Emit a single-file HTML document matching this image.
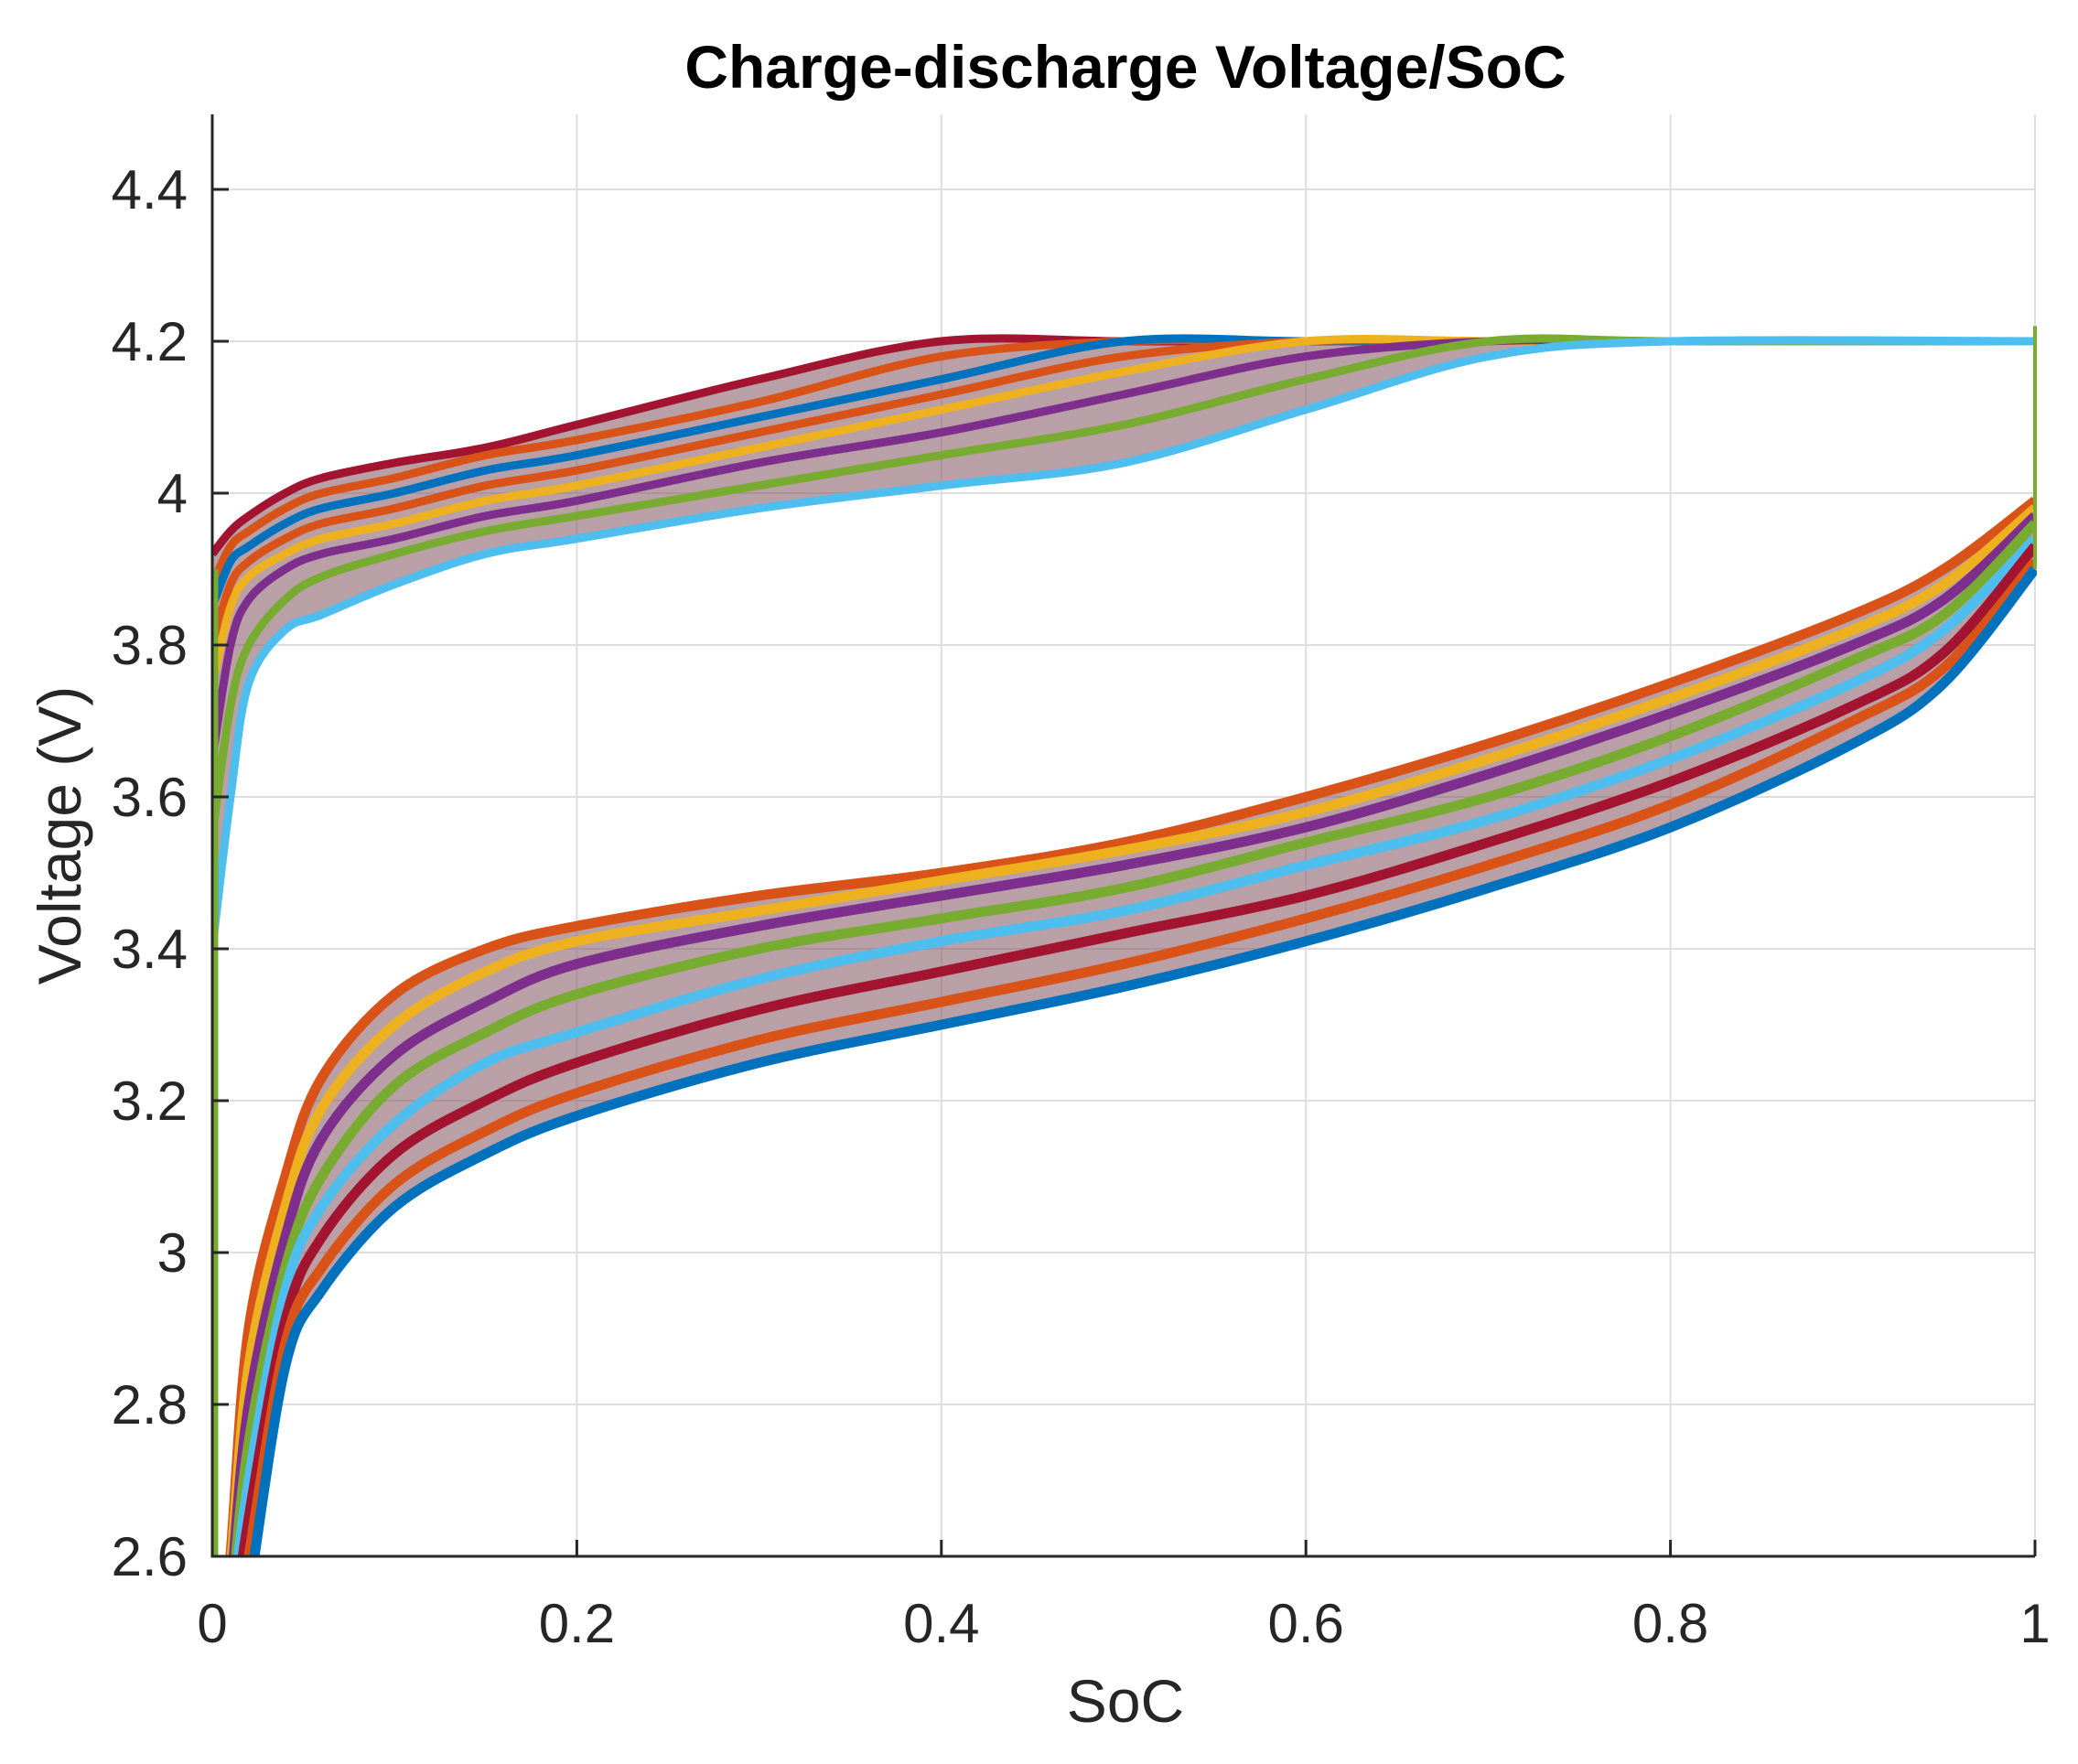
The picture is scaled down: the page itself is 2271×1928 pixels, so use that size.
<!DOCTYPE html>
<html><head><meta charset="utf-8"><style>
html,body{margin:0;padding:0;background:#fff;width:2271px;height:1928px;overflow:hidden;}
svg{display:block;font-family:"Liberation Sans",Arial,sans-serif;}
</style></head><body>
<svg id="chart" width="2271" height="1928" viewBox="0 0 2271 1928" xmlns="http://www.w3.org/2000/svg">
<defs><clipPath id="clip"><rect x="232" y="125" width="1994" height="1576"/></clipPath></defs>
<rect width="2271" height="1928" fill="#fff"/>
<g id="grid"></g>
<g id="bands" clip-path="url(#clip)"></g>
<g id="series" clip-path="url(#clip)"></g>
<g id="axes"></g>
<text x="1230" y="96" text-anchor="middle" font-size="66" font-weight="bold" fill="#000">Charge-discharge Voltage/SoC</text>
<text x="1230" y="1882" text-anchor="middle" font-size="66" fill="#262626">SoC</text>
<text transform="translate(88,913) rotate(-90)" text-anchor="middle" font-size="66" fill="#262626">Voltage (V)</text>
</svg>
<script>
const xTicks = [0, 0.2, 0.4, 0.6, 0.8, 1];
const xTickLabels = ["0", "0.2", "0.4", "0.6", "0.8", "1"];
const yTicks = [2.6, 2.8, 3, 3.2, 3.4, 3.6, 3.8, 4, 4.2, 4.4];
const yTickLabels = ["2.6", "2.8", "3", "3.2", "3.4", "3.6", "3.8", "4", "4.2", "4.4"];
const socCharge = [0,0.01,0.02,0.04,0.06,0.1,0.15,0.2,0.3,0.4,0.5,0.6,0.7,0.8,1];
const charge1 = [3.92,3.95,3.97,4.0,4.02,4.04,4.06,4.09,4.15,4.2,4.2,4.2,4.2,4.2,4.2];
const charge2 = [3.88,3.93,3.95,3.98,4.0,4.02,4.05,4.07,4.12,4.18,4.2,4.2,4.2,4.2,4.2];
const charge3 = [3.85,3.91,3.93,3.96,3.98,4.0,4.03,4.05,4.1,4.15,4.2,4.2,4.2,4.2,4.2];
const charge4 = [3.8,3.88,3.91,3.94,3.96,3.98,4.01,4.03,4.08,4.13,4.18,4.2,4.2,4.2,4.2];
const charge5 = [3.75,3.85,3.89,3.92,3.94,3.96,3.99,4.01,4.06,4.11,4.16,4.2,4.2,4.2,4.2];
const charge6 = [3.65,3.8,3.86,3.9,3.92,3.94,3.97,3.99,4.04,4.08,4.13,4.18,4.2,4.2,4.2];
const charge7 = [3.55,3.72,3.8,3.86,3.89,3.92,3.95,3.97,4.01,4.05,4.09,4.15,4.2,4.2,4.2];
const charge8 = [3.4,3.6,3.75,3.82,3.84,3.88,3.92,3.94,3.98,4.01,4.04,4.11,4.18,4.2,4.2];
const socDischarge = [0,0.01,0.02,0.04,0.06,0.1,0.15,0.2,0.3,0.4,0.5,0.6,0.7,0.8,0.9,0.95,1];
const discharge1 = [2.3,2.6,2.9,3.1,3.23,3.34,3.4,3.43,3.47,3.5,3.54,3.6,3.67,3.75,3.84,3.9,3.99];
const discharge2 = [2.3,2.58,2.85,3.06,3.19,3.3,3.37,3.41,3.45,3.49,3.53,3.58,3.65,3.73,3.82,3.88,3.98];
const discharge3 = [2.28,2.55,2.8,3.02,3.15,3.26,3.33,3.38,3.43,3.47,3.51,3.56,3.63,3.71,3.8,3.86,3.97];
const discharge4 = [2.26,2.52,2.75,2.98,3.1,3.22,3.29,3.34,3.4,3.44,3.48,3.54,3.6,3.68,3.78,3.84,3.96];
const discharge5 = [2.24,2.5,2.7,2.95,3.06,3.17,3.25,3.29,3.36,3.41,3.45,3.51,3.57,3.65,3.75,3.82,3.94];
const discharge6 = [2.22,2.47,2.65,2.91,3.02,3.13,3.2,3.25,3.32,3.37,3.42,3.47,3.54,3.62,3.72,3.79,3.93];
const discharge7 = [2.21,2.44,2.6,2.88,2.98,3.09,3.16,3.21,3.28,3.33,3.38,3.44,3.51,3.59,3.7,3.77,3.91];
const discharge8 = [2.2,2.4,2.55,2.85,2.95,3.06,3.13,3.18,3.25,3.3,3.35,3.41,3.48,3.56,3.67,3.75,3.9];

const X0=232, X1=2224, YB=1701, Y0V=2.6, PXV=830;
function sx(v){return X0+(X1-X0)*v;}
function sy(v){return YB-(v-Y0V)*PXV;}
const NS='http://www.w3.org/2000/svg';
function mk(tag,attrs,parent){const e=document.createElementNS(NS,tag);for(const k in attrs)e.setAttribute(k,attrs[k]);parent.appendChild(e);return e;}
const grid=document.getElementById('grid'), axes=document.getElementById('axes'), bands=document.getElementById('bands'), series=document.getElementById('series');
const TOP=125;
xTicks.forEach((t,i)=>{
  if(t>0){const g=mk('line',{x1:sx(t),x2:sx(t),y1:TOP,y2:YB,stroke:'#dedede','stroke-width':2},grid);
  
  }
  const tk=mk('line',{x1:sx(t),x2:sx(t),y1:YB,y2:YB-18,stroke:'#262626','stroke-width':3},axes);
  
  
  const tx=mk('text',{x:sx(t),y:1795,'text-anchor':'middle','font-size':60,fill:'#262626'},axes);
  tx.textContent=xTickLabels[i];
  
  
});
yTicks.forEach((t,i)=>{
  if(t>2.6){const g=mk('line',{x1:X0,x2:X1,y1:sy(t),y2:sy(t),stroke:'#dedede','stroke-width':2},grid);
  
  }
  const tk=mk('line',{x1:X0,x2:X0+18,y1:sy(t),y2:sy(t),stroke:'#262626','stroke-width':3},axes);
  
  
  const tx=mk('text',{x:205,y:sy(t)+21,'text-anchor':'end','font-size':60,fill:'#262626'},axes);
  tx.textContent=yTickLabels[i];
  
  
});
const ax=mk('path',{d:`M${X0},${TOP}V${YB}H${X1}`,fill:'none',stroke:'#262626','stroke-width':3},axes);



function pts(xs,ys){return xs.map((x,i)=>[sx(x),sy(ys[i])]);}
function smooth(p){let d=`M${p[0][0]},${p[0][1]}`;for(let i=0;i<p.length-1;i++){const a=p[Math.max(0,i-1)],b=p[i],c=p[i+1],e=p[Math.min(p.length-1,i+2)];
 const c1=[b[0]+(c[0]-a[0])/6,b[1]+(c[1]-a[1])/6],c2=[c[0]-(e[0]-b[0])/6,c[1]-(e[1]-b[1])/6];
 d+=`C${c1[0]},${c1[1]} ${c2[0]},${c2[1]} ${c[0]},${c[1]}`;}return d;}
function band(xs,top,bot,name){const a=pts(xs,top),b=pts(xs,bot).reverse();
 const p=mk('path',{d:smooth(a)+'L'+smooth(b).slice(1)+'Z',fill:'#8a5f6a',opacity:0.6},bands);
 
 }
band(socCharge,charge1,charge8,'charge-band');
band(socDischarge,discharge1,discharge8,'discharge-band');
const colors=['#0072BD','#D95319','#EDB120','#7E2F8E','#77AC30','#4DBEEE','#A2142F','#D95319'];
const chargeSeries=[charge1,charge2,charge3,charge4,charge5,charge6,charge7,charge8];
const dischargeSeries=[discharge1,discharge2,discharge3,discharge4,discharge5,discharge6,discharge7,discharge8];
chargeSeries.forEach((s,i)=>{const p=mk('path',{d:smooth(pts(socCharge,s)),fill:'none',stroke:colors[(i+6)%8],'stroke-width':9},series);
 
 });
dischargeSeries.forEach((s,i)=>{const p=mk('path',{d:smooth(pts(socDischarge,s)),fill:'none',stroke:colors[(i+1)%8],'stroke-width':11},series);
 
 });
const v0=mk('line',{x1:sx(0.002),x2:sx(0.002),y1:sy(2.6),y2:sy(3.9),stroke:'#77AC30','stroke-width':5},series);


const v1=mk('line',{x1:sx(1),x2:sx(1),y1:sy(3.9),y2:sy(4.22),stroke:'#77AC30','stroke-width':4},series);


</script>
</body></html>
